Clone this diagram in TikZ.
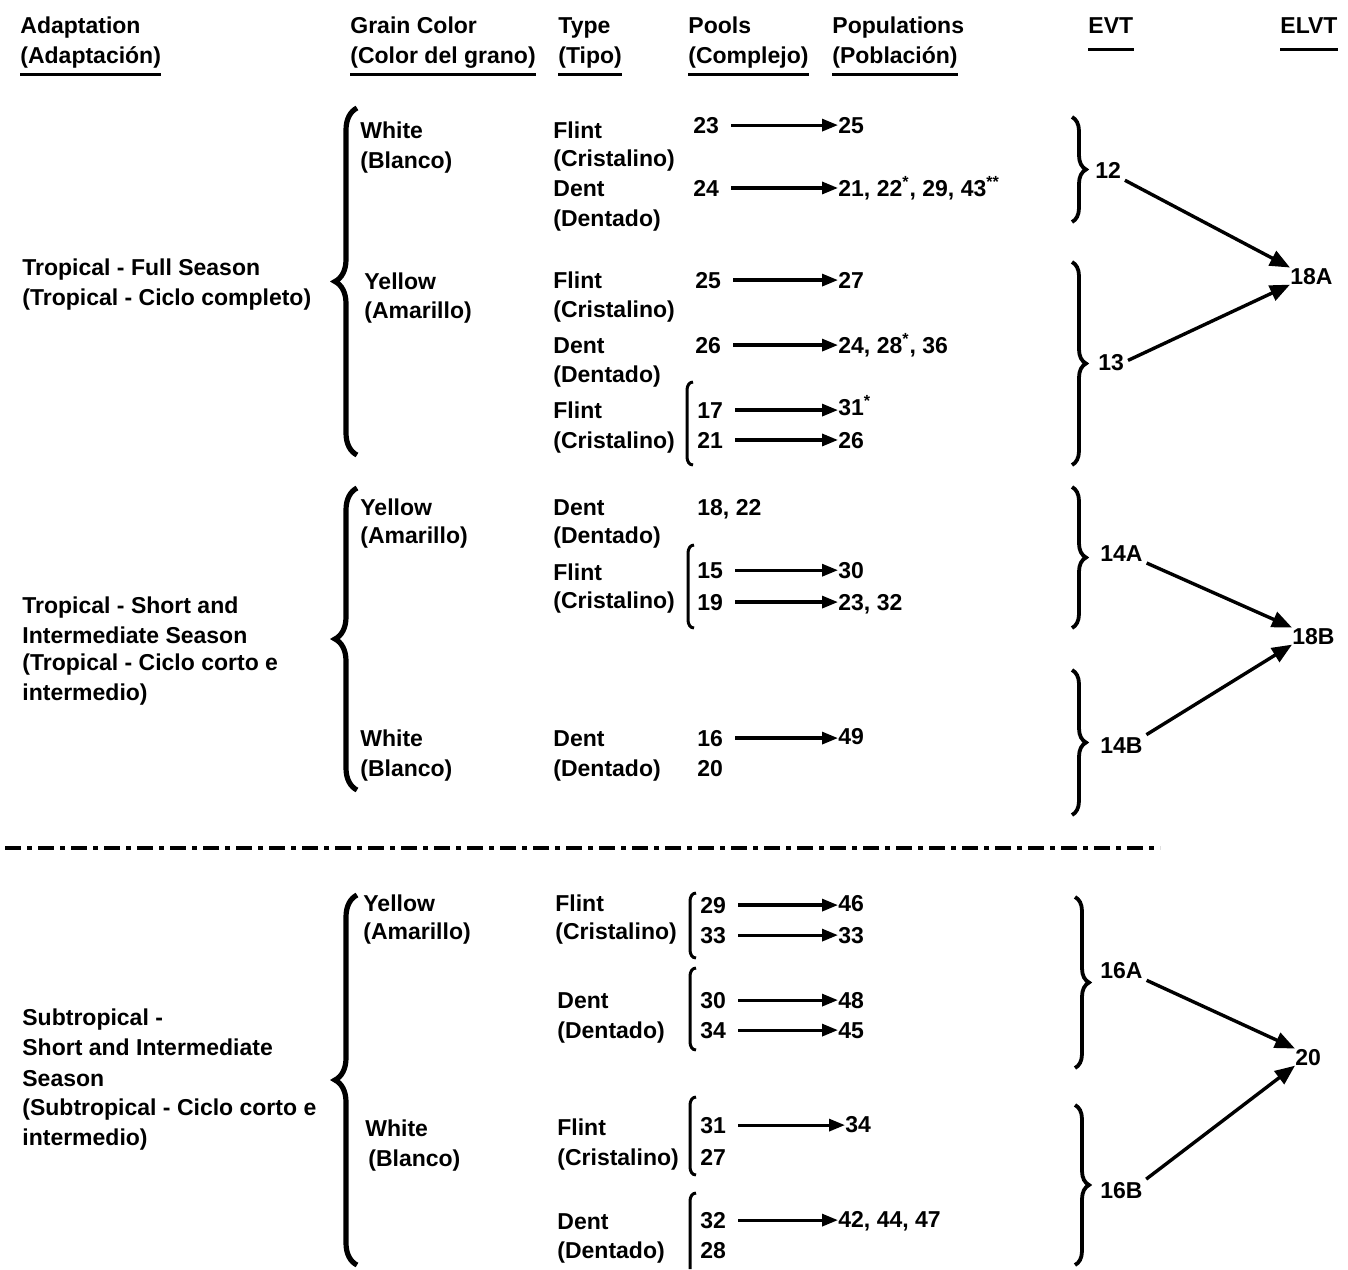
\documentclass[tikz,border=0pt]{standalone}
\usepackage{fontspec}
\setmainfont{Liberation Sans}
\usetikzlibrary{arrows.meta,decorations.pathreplacing}
\begin{document}
\begin{tikzpicture}[x=0.5pt,y=-0.5pt,
  lbl/.style={anchor=base west, inner sep=0pt, font=\fontsize{11.5}{13}\selectfont\bfseries},
  ar/.style={-{Triangle[length=8pt,width=6pt]}, line width=1.6pt, shorten <=6pt},
  bigar/.style={-{Triangle[length=10pt,width=8pt]}, line width=1.7pt, shorten <=2pt},
  lbrace/.style={decorate, decoration={brace, amplitude=11pt}, line width=2.6pt},
  rbrace/.style={decorate, decoration={brace, amplitude=7pt}, line width=1.9pt},
  bar/.style={line width=1.5pt},
  uline/.style={line width=1.6pt},
  sepline/.style={line width=1.6pt, dash pattern=on 8pt off 3pt on 2.5pt off 3pt}]
\useasboundingbox (0,0) rectangle (1348,1269);

% ---------- headers ----------
\node[lbl] (h1a) at (20,33) {Adaptation};
\node[lbl] (h1b) at (20,63) {(Adaptación)};
\node[lbl] (h2a) at (350,33) {Grain Color};
\node[lbl] (h2b) at (350,63) {(Color del grano)};
\node[lbl] (h3a) at (558,33) {Type};
\node[lbl] (h3b) at (558,63) {(Tipo)};
\node[lbl] (h4a) at (688,33) {Pools};
\node[lbl] (h4b) at (688,63) {(Complejo)};
\node[lbl] (h5a) at (832,33) {Populations};
\node[lbl] (h5b) at (832,63) {(Población)};
\node[lbl] (h6) at (1088,33) {EVT};
\node[lbl] (h7) at (1280,33) {ELVT};
\foreach \n in {h1b,h2b,h3b,h4b,h5b}
  \draw[uline] ([yshift=-3pt]\n.south west) -- ([yshift=-3pt]\n.south east);
\foreach \n in {h6,h7}
  \draw[uline] ([yshift=-8pt]\n.south west) -- ([yshift=-8pt]\n.south east);

% ---------- section 1 ----------
\node[lbl] (a1a) at (22,275) {Tropical - Full Season};
\node[lbl] (a1b) at (22,305) {(Tropical - Ciclo completo)};
\draw[lbrace] (357,455) -- (357,108);
\node[lbl] (c1a) at (360,138) {White};
\node[lbl] (c1b) at (360,168) {(Blanco)};
\node[lbl] (c2a) at (364,289) {Yellow};
\node[lbl] (c2b) at (364,318) {(Amarillo)};
\node[lbl] (t1a) at (553,138) {Flint};
\node[lbl] (t1b) at (553,166) {(Cristalino)};
\node[lbl] (t2a) at (553,196) {Dent};
\node[lbl] (t2b) at (553,226) {(Dentado)};
\node[lbl] (t3a) at (553,288) {Flint};
\node[lbl] (t3b) at (553,317) {(Cristalino)};
\node[lbl] (t4a) at (553,353) {Dent};
\node[lbl] (t4b) at (553,382) {(Dentado)};
\node[lbl] (t5a) at (553,418) {Flint};
\node[lbl] (t5b) at (553,448) {(Cristalino)};
\node[lbl] (p23) at (693,133) {23};
\node[lbl] (p24) at (693,196) {24};
\node[lbl] (p25) at (695,288) {25};
\node[lbl] (p26) at (695,353) {26};
\node[lbl] (p17) at (697,418) {17};
\node[lbl] (p21) at (697,448) {21};
\draw[bar] (693,382) to[out=180,in=90] (687,390) -- (687,457) to[out=-90,in=180] (693,465);
\node[lbl] (q1) at (838,133) {25};
\node[lbl] (q2) at (838,196) {21, 22\textsuperscript{*}, 29, 43\textsuperscript{**}};
\node[lbl] (q3) at (838,288) {27};
\node[lbl] (q4) at (838,353) {24, 28\textsuperscript{*}, 36};
\node[lbl] (q5) at (838,415) {31\textsuperscript{*}};
\node[lbl] (q6) at (838,448) {26};
\draw[ar] (p23.east) -- (p23.east -| q1.west);
\draw[ar] (p24.east) -- (p24.east -| q2.west);
\draw[ar] (p25.east) -- (p25.east -| q3.west);
\draw[ar] (p26.east) -- (p26.east -| q4.west);
\draw[ar] (p17.east) -- (p17.east -| q5.west);
\draw[ar] (p21.east) -- (p21.east -| q6.west);
\draw[rbrace] (1072,117) -- (1072,222);
\draw[rbrace] (1072,262) -- (1072,465);
\node[lbl] (e12) at (1095,178) {12};
\node[lbl] (e13) at (1098,370) {13};
\node[lbl] (l18A) at (1290,284) {18A};
\draw[bigar] (e12.south east) -- (l18A.north west);
\draw[bigar] (e13.east) -- (l18A.south west);

% ---------- section 2 ----------
\node[lbl] (a2a) at (22,613) {Tropical - Short and};
\node[lbl] (a2b) at (22,643) {Intermediate Season};
\node[lbl] (a2c) at (22,670) {(Tropical - Ciclo corto e};
\node[lbl] (a2d) at (22,700) {intermedio)};
\draw[lbrace] (357,790) -- (357,488);
\node[lbl] (c3a) at (360,515) {Yellow};
\node[lbl] (c3b) at (360,543) {(Amarillo)};
\node[lbl] (c4a) at (360,746) {White};
\node[lbl] (c4b) at (360,776) {(Blanco)};
\node[lbl] (t6a) at (553,515) {Dent};
\node[lbl] (t6b) at (553,543) {(Dentado)};
\node[lbl] (t7a) at (553,580) {Flint};
\node[lbl] (t7b) at (553,608) {(Cristalino)};
\node[lbl] (t8a) at (553,746) {Dent};
\node[lbl] (t8b) at (553,776) {(Dentado)};
\node[lbl] (p1822) at (697,515) {18, 22};
\node[lbl] (p15) at (697,578) {15};
\node[lbl] (p19) at (697,610) {19};
\node[lbl] (p16) at (697,746) {16};
\node[lbl] (p20) at (697,776) {20};
\draw[bar] (694,545) to[out=180,in=90] (688,553) -- (688,620) to[out=-90,in=180] (694,628);
\node[lbl] (q7) at (838,578) {30};
\node[lbl] (q8) at (838,610) {23, 32};
\node[lbl] (q9) at (838,744) {49};
\draw[ar] (p15.east) -- (p15.east -| q7.west);
\draw[ar] (p19.east) -- (p19.east -| q8.west);
\draw[ar] (p16.east) -- (p16.east -| q9.west);
\draw[rbrace] (1072,487) -- (1072,628);
\draw[rbrace] (1072,670) -- (1072,815);
\node[lbl] (e14A) at (1100,561) {14A};
\node[lbl] (e14B) at (1100,753) {14B};
\node[lbl] (l18B) at (1292,644) {18B};
\draw[bigar] (e14A.south east) -- (l18B.north west);
\draw[bigar] (e14B.north east) -- (l18B.south west);

% ---------- separator ----------
\coordinate (sepL) at (5,848);
\coordinate (sepR) at (1160,848);
\draw[sepline] (sepL) -- (sepR);

% ---------- section 3 ----------
\node[lbl] (a3a) at (22,1025) {Subtropical -};
\node[lbl] (a3b) at (22,1055) {Short and Intermediate};
\node[lbl] (a3c) at (22,1086) {Season};
\node[lbl] (a3d) at (22,1115) {(Subtropical - Ciclo corto e};
\node[lbl] (a3e) at (22,1145) {intermedio)};
\draw[lbrace] (357,1265) -- (357,895);
\node[lbl] (c5a) at (363,911) {Yellow};
\node[lbl] (c5b) at (363,939) {(Amarillo)};
\node[lbl] (c6a) at (365,1136) {White};
\node[lbl] (c6b) at (368,1166) {(Blanco)};
\node[lbl] (t9a) at (555,911) {Flint};
\node[lbl] (t9b) at (555,939) {(Cristalino)};
\node[lbl] (t10a) at (557,1008) {Dent};
\node[lbl] (t10b) at (557,1038) {(Dentado)};
\node[lbl] (t11a) at (557,1135) {Flint};
\node[lbl] (t11b) at (557,1165) {(Cristalino)};
\node[lbl] (t12a) at (557,1229) {Dent};
\node[lbl] (t12b) at (557,1258) {(Dentado)};
\node[lbl] (p29) at (700,913) {29};
\node[lbl] (p33) at (700,943) {33};
\node[lbl] (p30) at (700,1008) {30};
\node[lbl] (p34) at (700,1038) {34};
\node[lbl] (p31) at (700,1133) {31};
\node[lbl] (p27) at (700,1165) {27};
\node[lbl] (p32) at (700,1228) {32};
\node[lbl] (p28) at (700,1258) {28};
\draw[bar] (696,893) to[out=180,in=90] (690,901) -- (690,950) to[out=-90,in=180] (696,958);
\draw[bar] (696,968) to[out=180,in=90] (690,976) -- (690,1042) to[out=-90,in=180] (696,1050);
\draw[bar] (696,1097) to[out=180,in=90] (690,1105) -- (690,1167) to[out=-90,in=180] (696,1175);
\draw[bar] (696,1193) to[out=180,in=90] (690,1201) -- (690,1269);
\node[lbl] (q10) at (838,911) {46};
\node[lbl] (q11) at (838,943) {33};
\node[lbl] (q12) at (838,1008) {48};
\node[lbl] (q13) at (838,1038) {45};
\node[lbl] (q14) at (845,1132) {34};
\node[lbl] (q15) at (838,1227) {42, 44, 47};
\draw[ar] (p29.east) -- (p29.east -| q10.west);
\draw[ar] (p33.east) -- (p33.east -| q11.west);
\draw[ar] (p30.east) -- (p30.east -| q12.west);
\draw[ar] (p34.east) -- (p34.east -| q13.west);
\draw[ar] (p31.east) -- (p31.east -| q14.west);
\draw[ar] (p32.east) -- (p32.east -| q15.west);
\draw[rbrace] (1075,897) -- (1075,1068);
\draw[rbrace] (1075,1105) -- (1075,1265);
\node[lbl] (e16A) at (1100,978) {16A};
\node[lbl] (e16B) at (1100,1198) {16B};
\node[lbl] (l20) at (1295,1065) {20};
\draw[bigar] (e16A.south east) -- (l20.north west);
\draw[bigar] (e16B.north east) -- (l20.south west);
\end{tikzpicture}
\end{document}
